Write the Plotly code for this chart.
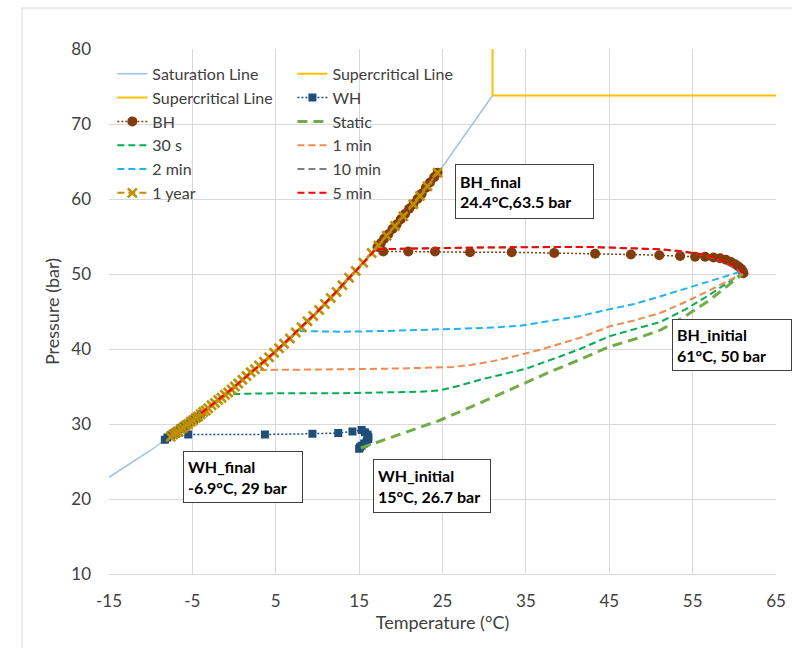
import plotly.graph_objects as go

# ---------------- data ----------------
sat_T = [-15, -10, -5, 0, 5, 10, 15, 20, 25, 30, 31.0]
sat_P = [22.9, 26.5, 30.5, 34.9, 39.7, 45.0, 50.9, 57.3, 64.3, 72.1, 73.8]

sc_v_T = [31.0, 31.0]
sc_v_P = [73.8, 80.0]
sc_h_T = [31.0, 65.0]
sc_h_P = [73.8, 73.8]

wh_T = [15.0, 15.1, 15.3, 15.6, 15.9, 16.1, 16.1, 16.0, 15.7, 15.3, 14.2, 12.5, 9.4, 3.7, -5.5,
        -8.3, -8.0, -7.6, -7.2, -6.8, -6.4, -6.0, -5.6, -5.2, -4.8, -4.4, -4.0,
        -4.6, -5.2, -5.8, -6.4, -6.9]
wh_P = [26.7, 26.9, 27.1, 27.4, 27.7, 28.0, 28.3, 28.6, 28.9, 29.2, 29.0, 28.8, 28.7, 28.6, 28.6,
        27.9, 28.2, 28.5, 28.8, 29.1, 29.4, 29.7, 30.0, 30.3, 30.6, 30.9, 31.3,
        30.8, 30.3, 29.8, 29.4, 29.0]

bh_T = [61.1, 61.0, 60.8, 60.5, 60.1, 59.6, 59.0, 58.3, 57.5, 56.5, 55.3, 53.5, 51.0, 47.6, 43.3,
        38.4, 33.3, 28.3, 24.1, 20.9, 17.9, 17.2, 17.6, 18.0, 18.5, 19.0, 19.5, 20.0, 20.5, 21.0,
        21.5, 22.0, 22.5, 23.0, 23.5, 24.0, 24.4]
bh_P = [50.1, 50.4, 50.7, 51.0, 51.3, 51.6, 51.9, 52.1, 52.2, 52.3, 52.3, 52.4, 52.5, 52.6, 52.7,
        52.8, 52.9, 52.9, 53.0, 53.0, 53.0, 53.6, 54.1, 54.7, 55.3, 56.0, 56.6, 57.3, 58.0, 58.7,
        59.3, 60.0, 60.7, 61.5, 62.2, 62.9, 63.5]

static_T = [15.2, 20.0, 24.7, 29.5, 34.3, 38.0, 41.5, 45.0, 48.0, 51.1, 54.0, 57.0, 59.5, 61.0]
static_P = [26.8, 28.7, 30.5, 32.8, 35.2, 37.0, 38.6, 40.3, 41.3, 42.5, 44.3, 46.5, 48.7, 50.0]

s30_T = [-0.1, 5.0, 12.7, 18.0, 22.3, 24.7, 27.0, 29.5, 32.0, 35.1, 39.1, 41.5, 45.0, 48.0, 51.1, 54.0, 57.0, 59.8, 61.0]
s30_P = [34.0, 34.1, 34.1, 34.2, 34.3, 34.5, 35.1, 35.9, 36.6, 37.4, 39.0, 40.0, 41.7, 42.6, 43.6, 45.2, 47.2, 49.3, 50.1]

m1_T = [3.1, 8.0, 12.7, 20.0, 26.2, 28.5, 30.7, 33.5, 36.7, 39.1, 41.5, 45.0, 48.0, 51.1, 54.0, 57.0, 59.5, 61.0]
m1_P = [37.2, 37.3, 37.3, 37.4, 37.6, 37.9, 38.3, 39.0, 39.9, 40.7, 41.5, 43.0, 43.8, 44.8, 46.2, 47.8, 49.3, 50.1]

m2_T = [7.9, 12.7, 18.0, 24.7, 30.0, 34.3, 37.0, 39.1, 41.5, 45.0, 48.0, 51.1, 54.0, 57.0, 59.5, 61.0]
m2_P = [42.4, 42.3, 42.4, 42.6, 42.8, 43.1, 43.6, 43.9, 44.4, 45.3, 46.0, 47.0, 48.0, 49.0, 49.9, 50.4]

m10_T = [61.0, 59.1, 56.2, 51.1, 43.0, 33.0, 22.0, 17.0, 15.0, 10.0]
m10_P = [50.1, 51.5, 52.6, 53.3, 53.6, 53.6, 53.4, 53.3, 50.9, 45.0]

y1_T = [-7.6, -7.3, -7.0, -6.7, -6.4, -6.1, -5.8, -5.5, -5.2, -4.9, -4.6, -4.3, -4.0, -3.7, -3.4,
        -3.1, -2.7, -2.3, -1.9, -1.5, -1.1, -0.7, -0.3, 0.1, 0.5, 1.0, 1.5, 2.0, 2.5, 3.0, 3.6, 4.2,
        4.8, 5.4, 6.0, 6.7, 7.4, 8.1, 8.8, 9.5, 10.2, 10.9, 11.6, 12.3, 13.0, 13.8, 14.6, 15.5, 16.5,
        17.3, 18.3, 19.3, 20.3, 21.5, 22.3, 23.2, 24.4]
y1_P = [28.3, 28.6, 28.8, 29.0, 29.3, 29.5, 29.8, 30.0, 30.3, 30.5, 30.8, 31.0, 31.3, 31.6, 31.8,
        32.1, 32.5, 32.8, 33.2, 33.5, 33.9, 34.2, 34.6, 35.0, 35.4, 35.9, 36.4, 36.9, 37.3, 37.8, 38.3, 38.9,
        39.5, 40.1, 40.7, 41.4, 42.2, 42.9, 43.7, 44.4, 45.2, 46.0, 46.8, 47.6, 48.5, 49.5, 50.4, 51.5, 52.8,
        53.8, 55.1, 56.4, 57.7, 59.3, 60.4, 61.7, 63.5]

m5_T = [61.0, 60.4, 59.1, 57.8, 56.2, 54.0, 51.1, 47.0, 43.0, 39.1, 33.0, 27.0, 22.0, 18.0, 17.0, 15.0, 10.0, 5.0, 0.0, -4.1]
m5_P = [50.1, 50.8, 51.5, 52.1, 52.6, 53.0, 53.3, 53.5, 53.6, 53.6, 53.6, 53.5, 53.4, 53.3, 53.3, 50.9, 45.0, 39.7, 34.9, 31.3]

x_ticks = [-15, -5, 5, 15, 25, 35, 45, 55, 65]
x_tick_text = ["-15", "-5", "5", "15", "25", "35", "45", "55", "65"]
y_ticks = [10, 20, 30, 40, 50, 60, 70, 80]
y_tick_text = ["10", "20", "30", "40", "50", "60", "70", "80"]

labels = [
    ("BH_final", "24.4°C,63.5 bar", 26.5, 64.7, 129, 45),
    ("BH_initial", "61°C, 50 bar", 52.5, 44.0, 110, 42),
    ("WH_final", "-6.9°C, 29 bar", -6.1, 26.4, 110, 42),
    ("WH_initial", "15°C, 26.7 bar", 16.7, 25.3, 108, 44),
]

FONT = "Lato, 'Open Sans', sans-serif"
TXT = "#404040"

fig = go.Figure()

def dashed(x, y, name, color, leg, width=2, dash="7px,4px"):
    fig.add_trace(go.Scatter(x=x, y=y, name=name, mode="lines", legend=leg,
                             line=dict(color=color, width=width, dash=dash)))

fig.add_trace(go.Scatter(x=sat_T, y=sat_P, name="Saturation Line", mode="lines", legend="legend",
                         line=dict(color="#9DC3E6", width=1.5)))
fig.add_trace(go.Scatter(x=sc_v_T, y=sc_v_P, name="Supercritical Line", mode="lines", legend="legend2",
                         line=dict(color="#FFC000", width=2)))
fig.add_trace(go.Scatter(x=sc_h_T, y=sc_h_P, name="Supercritical Line", mode="lines", legend="legend",
                         line=dict(color="#FFC000", width=2)))
fig.add_trace(go.Scatter(x=wh_T, y=wh_P, name="WH", mode="lines+markers", legend="legend2",
                         line=dict(color="#1F4E79", width=1.5, dash="2px,2px"),
                         marker=dict(symbol="square", size=8, color="#1F4E79")))
fig.add_trace(go.Scatter(x=bh_T, y=bh_P, name="BH", mode="lines+markers", legend="legend",
                         line=dict(color="#843C0C", width=1.5, dash="2px,2px"),
                         marker=dict(symbol="circle", size=10, color="#843C0C")))
dashed(static_T, static_P, "Static", "#70AD47", "legend2", width=3, dash="10px,6px")
dashed(s30_T, s30_P, "30 s", "#00B050", "legend")
dashed(m1_T, m1_P, "1 min", "#F4894B", "legend2")
dashed(m2_T, m2_P, "2 min", "#1CB5F0", "legend")
dashed(m10_T, m10_P, "10 min", "#808080", "legend2")
fig.add_trace(go.Scatter(x=y1_T, y=y1_P, name="1 year", mode="lines+markers", legend="legend",
                         line=dict(color="#BF9000", width=2, dash="7px,4px"),
                         marker=dict(symbol="x-thin", size=9,
                                     line=dict(color="#BF9000", width=2.5))))
dashed(m5_T, m5_P, "5 min", "#FF0000", "legend2")

for title, sub, tx, ty, w, h in labels:
    fig.add_annotation(x=tx, y=ty, xref="x", yref="y", xanchor="left", yanchor="top",
                       text=f"<b>{title}<br>{sub}</b>", showarrow=False, align="left",
                       width=w, height=h, valign="middle",
                       font=dict(family=FONT, size=16, color="#000000"),
                       bgcolor="white", bordercolor="#404040", borderwidth=1, borderpad=4)

# outer chart-area border
fig.add_shape(type="rect", xref="paper", yref="paper", x0=-0.1304, x1=1.05, y0=-0.2, y1=1.078,
              line=dict(color="#D9D9D9", width=1), fillcolor="rgba(0,0,0,0)", layer="below")

leg_common = dict(orientation="v", xanchor="left", yanchor="top", bgcolor="rgba(0,0,0,0)",
                  font=dict(family=FONT, size=16, color=TXT), traceorder="normal",
                  itemwidth=30, tracegroupgap=0)

fig.update_layout(
    width=792, height=648,
    margin=dict(l=109, r=16, t=49, b=74),
    paper_bgcolor="white", plot_bgcolor="white",
    font=dict(family=FONT, color=TXT, size=15),
    showlegend=True,
    legend=dict(x=0.005, y=0.985, **leg_common),
    legend2=dict(x=0.275, y=0.985, **leg_common),
    xaxis=dict(range=[-15, 65], tickvals=x_ticks, ticktext=x_tick_text, showgrid=True,
               gridcolor="#D9D9D9", gridwidth=1, automargin=False,
               zeroline=False, showline=True, linecolor="#D9D9D9", linewidth=1, mirror=False,
               ticks="", ticklabelstandoff=12, tickfont=dict(size=17, color=TXT),
               title=dict(text="Temperature (°C)", font=dict(size=18, color=TXT), standoff=4)),
    yaxis=dict(range=[10, 80], tickvals=y_ticks, ticktext=y_tick_text, showgrid=True,
               gridcolor="#D9D9D9", gridwidth=1, automargin=False,
               zeroline=False, showline=False, ticks="", ticklabelstandoff=17,
               tickfont=dict(size=17, color=TXT),
               title=dict(text="Pressure (bar)", font=dict(size=18, color=TXT), standoff=6)),
)

fig.write_html("out.html", config={"displayModeBar": False},
               post_script="document.body.style.margin='0';document.body.style.overflow='hidden';")
